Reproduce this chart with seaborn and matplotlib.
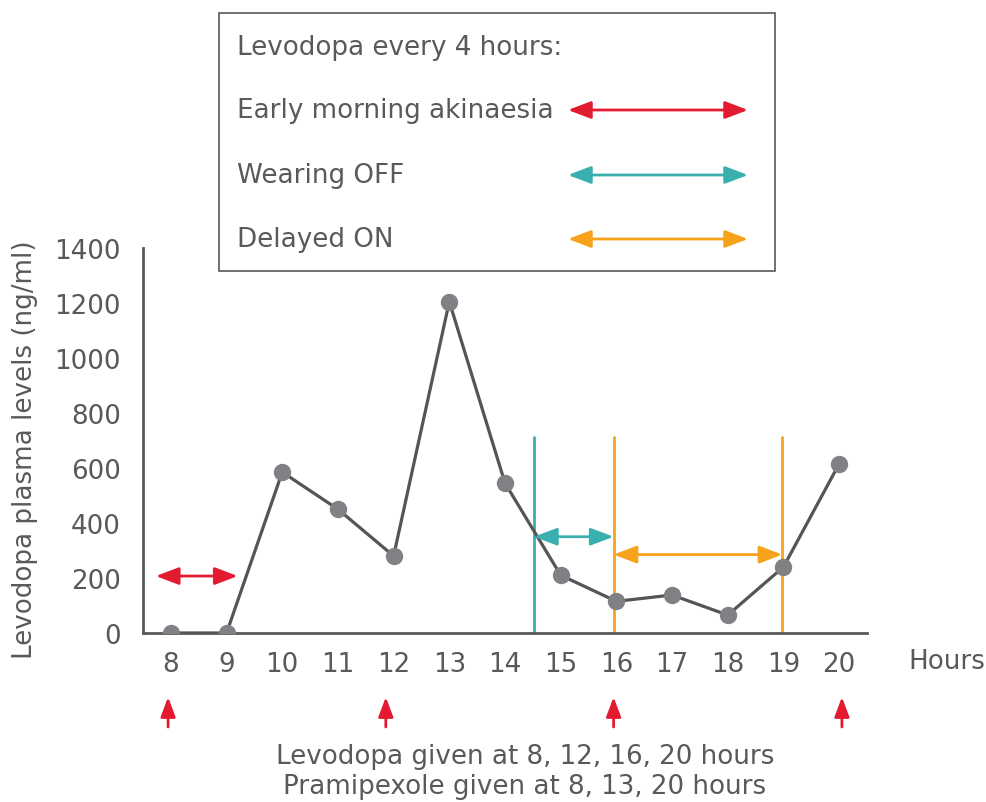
import matplotlib
matplotlib.use('Agg')
import matplotlib.pyplot as plt
import seaborn as sns
import pandas as pd
from matplotlib.patches import Rectangle, FancyArrowPatch

# data
hours = [8, 9, 10, 11, 12, 13, 14, 15, 16, 17, 18, 19, 20]
plasma = [0, 0, 585, 450, 280, 1205, 545, 210, 115, 138, 65, 240, 615]
dose_arrow_x = [7.95, 11.86, 15.95, 20.05]   # levodopa given at 8, 12, 16, 20
wearing_off = (14.52, 15.95, 350)
delayed_on = (15.95, 18.98, 285)
akinaesia = (7.73, 9.2, 207)
vlines_x = [14.52, 15.95, 18.98]
vlines_col = ['teal', 'orange', 'orange']
vline_top = 712

legend_items = ['Early morning akinaesia', 'Wearing OFF', 'Delayed ON']

RED = '#e31b30'
TEAL = '#3aafb0'
ORANGE = '#f7a21b'
TXT = '#58595b'
cols = {'red': RED, 'teal': TEAL, 'orange': ORANGE}
FS = 18.8

sns.set_style('white')
plt.rcParams['font.family'] = ['DejaVu Sans']
plt.rcParams['text.color'] = TXT

df = pd.DataFrame({'hour': hours, 'plasma': plasma})

fig = plt.figure(figsize=(9.87, 8.03), dpi=100)
ax = fig.add_axes([0.1449, 0.2105, 0.7335, 0.4794])

sns.lineplot(data=df, x='hour', y='plasma', ax=ax, color='#555555', lw=2.3,
             marker='o', markersize=12.5, markerfacecolor='#808085',
             markeredgewidth=0, zorder=3)

for x, c in zip(vlines_x, vlines_col):
    ax.plot([x, x], [0, vline_top], color=cols[c], lw=2, zorder=2)

def dbl_arrow(x0, x1, y, c, coords=None):
    kw = dict(arrowstyle='<|-|>,head_length=1.0,head_width=0.38', color=c, lw=2,
              mutation_scale=14, shrinkA=0, shrinkB=0)
    if coords is None:
        ax.add_patch(FancyArrowPatch((x0, y), (x1, y), zorder=4, **kw))
    else:
        fig.add_artist(FancyArrowPatch((x0, y), (x1, y), transform=fig.transFigure, **kw))

dbl_arrow(wearing_off[0], wearing_off[1], wearing_off[2], TEAL)
dbl_arrow(delayed_on[0], delayed_on[1], delayed_on[2], ORANGE)
dbl_arrow(akinaesia[0], akinaesia[1], akinaesia[2], RED)

# dose arrows below the axis
for d in dose_arrow_x:
    ax.annotate('', xy=(d, -233), xytext=(d, -342), annotation_clip=False,
                arrowprops=dict(arrowstyle='-|>,head_length=0.85,head_width=0.32',
                                color=RED, lw=2, mutation_scale=14,
                                shrinkA=0, shrinkB=0))

ax.set_xlim(7.5, 20.5)
ax.set_ylim(0, 1400)
ax.set_xticks([h + 0.5 for h in [7] + hours])
ax.set_xticklabels([])
ax.set_xticks(hours, minor=True)
ax.set_xticklabels([str(h) for h in hours], minor=True)
ax.set_yticks(range(0, 1401, 200))
ax.tick_params(axis='x', which='major', length=7, width=2, color='#58595b', direction='out')
ax.tick_params(axis='x', which='minor', length=0, pad=13, labelsize=FS, labelcolor=TXT)
ax.tick_params(axis='y', length=7, width=2, color='#58595b', direction='out',
               labelsize=FS, labelcolor=TXT, pad=9)
for s in ['top', 'right']:
    ax.spines[s].set_visible(False)
for s in ['left', 'bottom']:
    ax.spines[s].set_color('#58595b')
    ax.spines[s].set_linewidth(2)
ax.set_xlabel('')
ax.set_ylabel('Levodopa plasma levels (ng/ml)', fontsize=FS, color=TXT)
ax.yaxis.set_label_coords(-0.145, 0.48)

fig.text(908 / 987, 1 - 662 / 803, 'Hours', fontsize=FS, va='center', ha='left')
fig.text(525 / 987, 1 - 757 / 803, 'Levodopa given at 8, 12, 16, 20 hours',
         fontsize=FS, ha='center', va='center')
fig.text(525 / 987, 1 - 787 / 803, 'Pramipexole given at 8, 13, 20 hours',
         fontsize=FS, ha='center', va='center')

# legend box
fig.add_artist(Rectangle((219 / 987, 1 - 272 / 803), 556 / 987, 258 / 803,
                         transform=fig.transFigure, fill=False,
                         edgecolor='#58595b', lw=1.2))
fig.text(237 / 987, 1 - 48 / 803, 'Levodopa every 4 hours:', fontsize=FS, va='center')
ys = [111, 176, 240]
for lab, y, c in zip(legend_items, ys, [RED, TEAL, ORANGE]):
    fig.text(237 / 987, 1 - y / 803, lab, fontsize=FS, va='center')
    dbl_arrow(568 / 987, 748 / 987, 1 - y / 803, c, coords='fig')

fig.savefig('out.png', dpi=100)
